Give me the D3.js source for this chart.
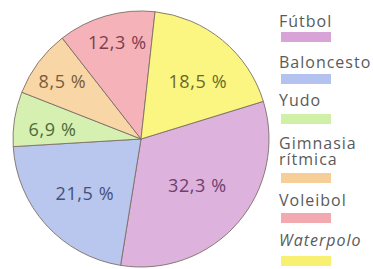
<!DOCTYPE html>
<html><head><meta charset="utf-8">
<script src="https://cdn.jsdelivr.net/npm/d3@7"></script>
<style>
html,body{margin:0;padding:0;background:#fff;}
svg{display:block;}
</style></head>
<body>
<svg id="chart" width="373" height="269"></svg>
<script>
const categories = ["Fútbol","Baloncesto","Yudo","Gimnasia rítmica","Voleibol","Waterpolo"];
const values = [32.3, 21.5, 6.9, 8.5, 12.3, 18.5];
const valueLabels = ["32,3 %","21,5 %","6,9 %","8,5 %","12,3 %","18,5 %"];
const legendLines = [["Fútbol"],["Baloncesto"],["Yudo"],["Gimnasia","rítmica"],["Voleibol"],["Waterpolo"]];
const italicLegend = [false,false,false,false,false,true];
const fillColors = ["#ddb2dd","#b9c6ee","#d6f0b2","#f8d6a6","#f5b3b9","#fbf681"];
const swatchColors = ["#d8a4d8","#b3c2ee","#d0f0a8","#f6cf98","#f3a9b0","#f8f070"];
const textColors = ["#6e3f6e","#44507e","#4b6b3b","#7a5b3b","#7b3d4d","#6b6a2b"];

const svg = d3.select("#chart");
const cx = 141, cy = 139, r = 128;
const start = 72.9 * Math.PI / 180;

const pie = d3.pie().sort(null).value(d => d.v).startAngle(start).endAngle(start + 2*Math.PI);
const data = categories.map((c,i)=>({c, v: values[i], i}));
const arcs = pie(data);
const arc = d3.arc().innerRadius(0).outerRadius(r);

const g = svg.append("g").attr("transform", `translate(${cx},${cy})`);
g.selectAll("path").data(arcs).join("path")
  .attr("d", arc)
  .attr("fill", d => fillColors[d.data.i])
  .attr("stroke", "#7d6f66")
  .attr("stroke-width", 0.9)
  .attr("stroke-linejoin", "round");

// label placement tuning per slice (radius fraction, angle offset in degrees)
const labelR = [0.57, 0.61, 0.695, 0.76, 0.775, 0.63];
const labelDA = [-1.6, -1.9, -3.1, -0.6, 2, 5.2];
g.selectAll("text.lbl").data(arcs).join("text")
  .attr("class","lbl")
  .attr("transform", d => {
    const a = (d.startAngle + d.endAngle)/2 + labelDA[d.data.i]*Math.PI/180;
    const rr = r * labelR[d.data.i];
    return `translate(${Math.sin(a)*rr},${-Math.cos(a)*rr})`;
  })
  .attr("text-anchor","middle")
  .attr("dy","0.36em")
  .attr("font-family","'Open Sans', sans-serif")
  .attr("font-size", 18)
  .attr("letter-spacing", 0.6)
  .attr("fill", d => textColors[d.data.i])
  .text(d => valueLabels[d.data.i]);

// legend
const lx = 279;
const baselines = [27, 68, 106, 149, 206, 246];
const swatchTops = [32, 74, 114, 173, 213, 256];
const lineGap = 16;
const leg = svg.append("g");
legendLines.forEach((lines, i) => {
  lines.forEach((ln, j) => {
    leg.append("text")
      .attr("x", lx)
      .attr("y", baselines[i] + j*lineGap)
      .attr("font-family","'Open Sans', sans-serif")
      .attr("font-size", 16)
      .attr("letter-spacing", 1)
      .attr("font-style", italicLegend[i] ? "italic" : "normal")
      .attr("fill", "#5a5a5a")
      .text(ln);
  });
  leg.append("rect")
    .attr("x", lx + 2).attr("y", swatchTops[i])
    .attr("width", 50).attr("height", 10)
    .attr("fill", swatchColors[i]);
});
</script>
</body></html>
